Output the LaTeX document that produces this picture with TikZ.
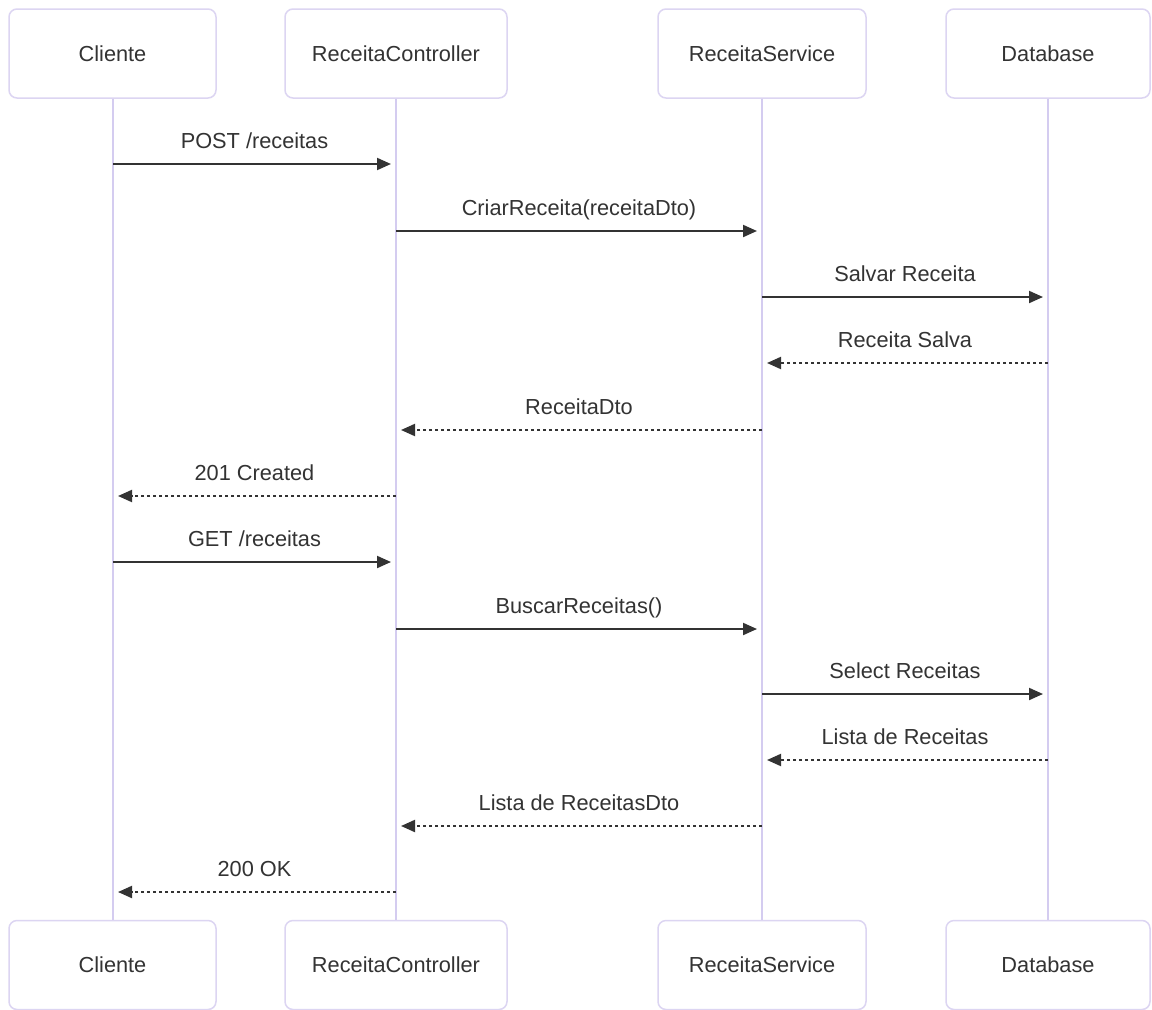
\documentclass[tikz,border=0pt]{standalone}
\usepackage{fontspec}
\setmainfont{Liberation Sans}
\usetikzlibrary{arrows.meta}
\definecolor{txt}{HTML}{333333}
\definecolor{actorborder}{HTML}{DCD5F2}
\definecolor{lifeline}{HTML}{D4CCF0}
\begin{document}
\begin{tikzpicture}[x=1pt,y=-1pt,
  actor/.style={draw=actorborder,line width=1.5pt,fill=white,rounded corners=8pt,
    minimum height=89pt,text=txt,font=\fontsize{21.75}{26}\selectfont,inner sep=0pt},
  life/.style={draw=lifeline,line width=2pt},
  msg/.style={draw=txt,line width=2pt,-{Triangle[length=14pt,width=12pt]},shorten >=5pt},
  reply/.style={msg,dash pattern=on 3pt off 3pt},
  lbl/.style={text=txt,font=\fontsize{21.75}{26}\selectfont,inner sep=0pt,anchor=base}
]
\useasboundingbox[fill=white] (0,0) rectangle (1152,1010);
% top actors
\node[actor,minimum width=207pt] (clT) at (112.5,53.5) {Cliente};
\node[actor,minimum width=222pt] (rcT) at (396,53.5) {ReceitaController};
\node[actor,minimum width=208pt] (rsT) at (762,53.5) {ReceitaService};
\node[actor,minimum width=204pt] (dbT) at (1048,53.5) {Database};
% bottom actors
\node[actor,minimum width=207pt] (clB) at (112.5,965) {Cliente};
\node[actor,minimum width=222pt] (rcB) at (396,965) {ReceitaController};
\node[actor,minimum width=208pt] (rsB) at (762,965) {ReceitaService};
\node[actor,minimum width=204pt] (dbB) at (1048,965) {Database};
% lifelines
\foreach \n in {cl,rc,rs,db}{
  \draw[life] (\n T.south) -- (\n B.north);
}
% message coordinates
\foreach \n/\x in {cl/113,rc/396,rs/762,db/1048}{
  \foreach \i/\y in {1/164,2/231,3/297,4/363,5/430,6/496,7/562,8/629,9/694,10/760,11/826,12/892}{
    \coordinate (\n\i) at (\x,\y);
  }
}
\draw[msg] (cl1) -- (rc1) node[lbl,midway,yshift=16pt] {POST /receitas};
\draw[msg] (rc2) -- (rs2) node[lbl,midway,yshift=16pt] {CriarReceita(receitaDto)};
\draw[msg] (rs3) -- (db3) node[lbl,midway,yshift=16pt] {Salvar Receita};
\draw[reply] (db4) -- (rs4) node[lbl,midway,yshift=16pt] {Receita Salva};
\draw[reply] (rs5) -- (rc5) node[lbl,midway,yshift=16pt] {ReceitaDto};
\draw[reply] (rc6) -- (cl6) node[lbl,midway,yshift=16pt] {201 Created};
\draw[msg] (cl7) -- (rc7) node[lbl,midway,yshift=16pt] {GET /receitas};
\draw[msg] (rc8) -- (rs8) node[lbl,midway,yshift=16pt] {BuscarReceitas()};
\draw[msg] (rs9) -- (db9) node[lbl,midway,yshift=16pt] {Select Receitas};
\draw[reply] (db10) -- (rs10) node[lbl,midway,yshift=16pt] {Lista de Receitas};
\draw[reply] (rs11) -- (rc11) node[lbl,midway,yshift=16pt] {Lista de ReceitasDto};
\draw[reply] (rc12) -- (cl12) node[lbl,midway,yshift=16pt] {200 OK};
\end{tikzpicture}
\end{document}
